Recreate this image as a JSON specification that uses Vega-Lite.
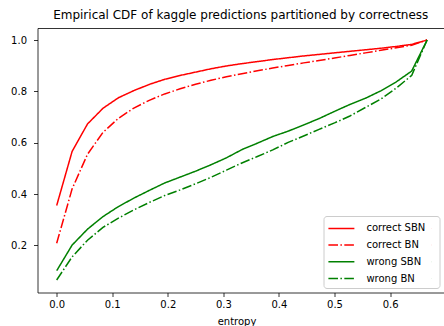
{
  "$schema": "https://vega.github.io/schema/vega-lite/v6.json",
  "autosize": "none",
  "width": 406.5,
  "height": 264.5,
  "padding": {"left": 37.5, "top": 28, "right": 0, "bottom": 33.5},
  "background": "white",
  "config": {
    "font": "DejaVu Sans",
    "view": {"stroke": null},
    "axis": {
      "grid": false,
      "domainColor": "black",
      "domainWidth": 0.8,
      "tickColor": "black",
      "tickWidth": 0.8,
      "tickSize": 4,
      "labelFont": "DejaVu Sans",
      "labelFontSize": 10,
      "labelColor": "black",
      "titleFont": "DejaVu Sans",
      "titleFontSize": 10,
      "titleFontWeight": "normal",
      "titleColor": "black"
    },
    "legend": {
      "orient": "bottom-right",
      "offset": 5,
      "padding": 4.4,
      "rowPadding": 3.7,
      "strokeColor": "#cccccc",
      "fillColor": "rgba(255,255,255,0.8)",
      "cornerRadius": 3,
      "labelFont": "DejaVu Sans",
      "labelFontSize": 10,
      "labelColor": "black",
      "symbolType": "M-1.91,0H1.91M13.2,0h0.01",
      "symbolSize": 185,
      "symbolStrokeWidth": 1.5,
      "symbolOffset": 5.5,
      "labelOffset": 17
    }
  },
  "title": {
    "text": "Empirical CDF of kaggle predictions partitioned by correctness",
    "font": "DejaVu Sans",
    "fontSize": 12,
    "fontWeight": "normal",
    "color": "black",
    "anchor": "middle",
    "offset": 6
  },
  "data": {
    "values": [
      {"entropy": 0.0, "cdf": 0.355, "series": "correct SBN"},
      {"entropy": 0.0278, "cdf": 0.566, "series": "correct SBN"},
      {"entropy": 0.0555, "cdf": 0.673, "series": "correct SBN"},
      {"entropy": 0.0833, "cdf": 0.734, "series": "correct SBN"},
      {"entropy": 0.1111, "cdf": 0.775, "series": "correct SBN"},
      {"entropy": 0.1389, "cdf": 0.803, "series": "correct SBN"},
      {"entropy": 0.1666, "cdf": 0.827, "series": "correct SBN"},
      {"entropy": 0.1944, "cdf": 0.847, "series": "correct SBN"},
      {"entropy": 0.2222, "cdf": 0.862, "series": "correct SBN"},
      {"entropy": 0.25, "cdf": 0.875, "series": "correct SBN"},
      {"entropy": 0.2777, "cdf": 0.888, "series": "correct SBN"},
      {"entropy": 0.3055, "cdf": 0.899, "series": "correct SBN"},
      {"entropy": 0.3333, "cdf": 0.908, "series": "correct SBN"},
      {"entropy": 0.3611, "cdf": 0.916, "series": "correct SBN"},
      {"entropy": 0.3888, "cdf": 0.924, "series": "correct SBN"},
      {"entropy": 0.4166, "cdf": 0.931, "series": "correct SBN"},
      {"entropy": 0.4444, "cdf": 0.938, "series": "correct SBN"},
      {"entropy": 0.4722, "cdf": 0.944, "series": "correct SBN"},
      {"entropy": 0.5, "cdf": 0.95, "series": "correct SBN"},
      {"entropy": 0.5277, "cdf": 0.956, "series": "correct SBN"},
      {"entropy": 0.5555, "cdf": 0.962, "series": "correct SBN"},
      {"entropy": 0.5833, "cdf": 0.968, "series": "correct SBN"},
      {"entropy": 0.6111, "cdf": 0.975, "series": "correct SBN"},
      {"entropy": 0.6388, "cdf": 0.983, "series": "correct SBN"},
      {"entropy": 0.6666, "cdf": 1.0, "series": "correct SBN"},

      {"entropy": 0.0, "cdf": 0.208, "series": "correct BN"},
      {"entropy": 0.0278, "cdf": 0.42, "series": "correct BN"},
      {"entropy": 0.0555, "cdf": 0.555, "series": "correct BN"},
      {"entropy": 0.0833, "cdf": 0.64, "series": "correct BN"},
      {"entropy": 0.1111, "cdf": 0.695, "series": "correct BN"},
      {"entropy": 0.1389, "cdf": 0.735, "series": "correct BN"},
      {"entropy": 0.1666, "cdf": 0.765, "series": "correct BN"},
      {"entropy": 0.1944, "cdf": 0.79, "series": "correct BN"},
      {"entropy": 0.2222, "cdf": 0.81, "series": "correct BN"},
      {"entropy": 0.25, "cdf": 0.828, "series": "correct BN"},
      {"entropy": 0.2777, "cdf": 0.843, "series": "correct BN"},
      {"entropy": 0.3055, "cdf": 0.857, "series": "correct BN"},
      {"entropy": 0.3333, "cdf": 0.869, "series": "correct BN"},
      {"entropy": 0.3611, "cdf": 0.88, "series": "correct BN"},
      {"entropy": 0.3888, "cdf": 0.891, "series": "correct BN"},
      {"entropy": 0.4166, "cdf": 0.901, "series": "correct BN"},
      {"entropy": 0.4444, "cdf": 0.911, "series": "correct BN"},
      {"entropy": 0.4722, "cdf": 0.92, "series": "correct BN"},
      {"entropy": 0.5, "cdf": 0.93, "series": "correct BN"},
      {"entropy": 0.5277, "cdf": 0.94, "series": "correct BN"},
      {"entropy": 0.5555, "cdf": 0.95, "series": "correct BN"},
      {"entropy": 0.5833, "cdf": 0.96, "series": "correct BN"},
      {"entropy": 0.6111, "cdf": 0.97, "series": "correct BN"},
      {"entropy": 0.6388, "cdf": 0.98, "series": "correct BN"},
      {"entropy": 0.6666, "cdf": 1.0, "series": "correct BN"},

      {"entropy": 0.0, "cdf": 0.101, "series": "wrong SBN"},
      {"entropy": 0.0278, "cdf": 0.201, "series": "wrong SBN"},
      {"entropy": 0.0555, "cdf": 0.263, "series": "wrong SBN"},
      {"entropy": 0.0833, "cdf": 0.312, "series": "wrong SBN"},
      {"entropy": 0.1111, "cdf": 0.351, "series": "wrong SBN"},
      {"entropy": 0.1389, "cdf": 0.384, "series": "wrong SBN"},
      {"entropy": 0.1666, "cdf": 0.414, "series": "wrong SBN"},
      {"entropy": 0.1944, "cdf": 0.443, "series": "wrong SBN"},
      {"entropy": 0.2222, "cdf": 0.466, "series": "wrong SBN"},
      {"entropy": 0.25, "cdf": 0.489, "series": "wrong SBN"},
      {"entropy": 0.2777, "cdf": 0.514, "series": "wrong SBN"},
      {"entropy": 0.3055, "cdf": 0.541, "series": "wrong SBN"},
      {"entropy": 0.3333, "cdf": 0.573, "series": "wrong SBN"},
      {"entropy": 0.3611, "cdf": 0.598, "series": "wrong SBN"},
      {"entropy": 0.3888, "cdf": 0.624, "series": "wrong SBN"},
      {"entropy": 0.4166, "cdf": 0.645, "series": "wrong SBN"},
      {"entropy": 0.4444, "cdf": 0.669, "series": "wrong SBN"},
      {"entropy": 0.4722, "cdf": 0.694, "series": "wrong SBN"},
      {"entropy": 0.5, "cdf": 0.722, "series": "wrong SBN"},
      {"entropy": 0.5277, "cdf": 0.749, "series": "wrong SBN"},
      {"entropy": 0.5555, "cdf": 0.773, "series": "wrong SBN"},
      {"entropy": 0.5833, "cdf": 0.802, "series": "wrong SBN"},
      {"entropy": 0.6111, "cdf": 0.837, "series": "wrong SBN"},
      {"entropy": 0.6388, "cdf": 0.879, "series": "wrong SBN"},
      {"entropy": 0.6666, "cdf": 1.0, "series": "wrong SBN"},

      {"entropy": 0.0, "cdf": 0.065, "series": "wrong BN"},
      {"entropy": 0.0278, "cdf": 0.155, "series": "wrong BN"},
      {"entropy": 0.0555, "cdf": 0.22, "series": "wrong BN"},
      {"entropy": 0.0833, "cdf": 0.27, "series": "wrong BN"},
      {"entropy": 0.1111, "cdf": 0.306, "series": "wrong BN"},
      {"entropy": 0.1389, "cdf": 0.338, "series": "wrong BN"},
      {"entropy": 0.1666, "cdf": 0.367, "series": "wrong BN"},
      {"entropy": 0.1944, "cdf": 0.394, "series": "wrong BN"},
      {"entropy": 0.2222, "cdf": 0.416, "series": "wrong BN"},
      {"entropy": 0.25, "cdf": 0.44, "series": "wrong BN"},
      {"entropy": 0.2777, "cdf": 0.465, "series": "wrong BN"},
      {"entropy": 0.3055, "cdf": 0.493, "series": "wrong BN"},
      {"entropy": 0.3333, "cdf": 0.521, "series": "wrong BN"},
      {"entropy": 0.3611, "cdf": 0.546, "series": "wrong BN"},
      {"entropy": 0.3888, "cdf": 0.572, "series": "wrong BN"},
      {"entropy": 0.4166, "cdf": 0.601, "series": "wrong BN"},
      {"entropy": 0.4444, "cdf": 0.626, "series": "wrong BN"},
      {"entropy": 0.4722, "cdf": 0.652, "series": "wrong BN"},
      {"entropy": 0.5, "cdf": 0.677, "series": "wrong BN"},
      {"entropy": 0.5277, "cdf": 0.704, "series": "wrong BN"},
      {"entropy": 0.5555, "cdf": 0.737, "series": "wrong BN"},
      {"entropy": 0.5833, "cdf": 0.77, "series": "wrong BN"},
      {"entropy": 0.6111, "cdf": 0.813, "series": "wrong BN"},
      {"entropy": 0.6388, "cdf": 0.862, "series": "wrong BN"},
      {"entropy": 0.6666, "cdf": 1.0, "series": "wrong BN"}
    ]
  },
  "resolve": {"axis": {"x": "independent"}},
  "layer": [
    {
      "mark": {"type": "line", "strokeWidth": 1.5, "clip": true},
      "encoding": {
        "x": {
          "field": "entropy", "type": "quantitative",
          "scale": {"domain": [-0.0345, 0.697], "nice": false, "zero": false},
          "axis": {"orient": "bottom", "values": [0, 0.1, 0.2, 0.3, 0.4, 0.5, 0.6], "format": ".1f", "labelPadding": 3, "title": "entropy", "titlePadding": 6.5, "titleX": 199}
        },
        "y": {
          "field": "cdf", "type": "quantitative",
          "scale": {"domain": [0.0162, 1.0469], "nice": false, "zero": false},
          "axis": {"values": [0.2, 0.4, 0.6, 0.8, 1.0], "format": ".1f", "labelPadding": 7, "title": null}
        },
        "color": {
          "field": "series", "type": "nominal",
          "scale": {"domain": ["correct SBN", "correct BN", "wrong SBN", "wrong BN"], "range": ["#ff0000", "#ff0000", "#008000", "#008000"]},
          "legend": {"title": null}
        },
        "strokeDash": {
          "field": "series", "type": "nominal",
          "scale": {"domain": ["correct SBN", "correct BN", "wrong SBN", "wrong BN"], "range": [[1, 0], [9.6, 2.4, 1.5, 2.4], [1, 0], [9.6, 2.4, 1.5, 2.4]]},
          "legend": {"title": null}
        }
      }
    },
    {
      "mark": {"type": "rule", "opacity": 0},
      "encoding": {
        "x": {
          "datum": 0, "type": "quantitative",
          "axis": {"orient": "top", "labels": false, "ticks": false, "title": null, "domain": true}
        }
      }
    }
  ]
}
